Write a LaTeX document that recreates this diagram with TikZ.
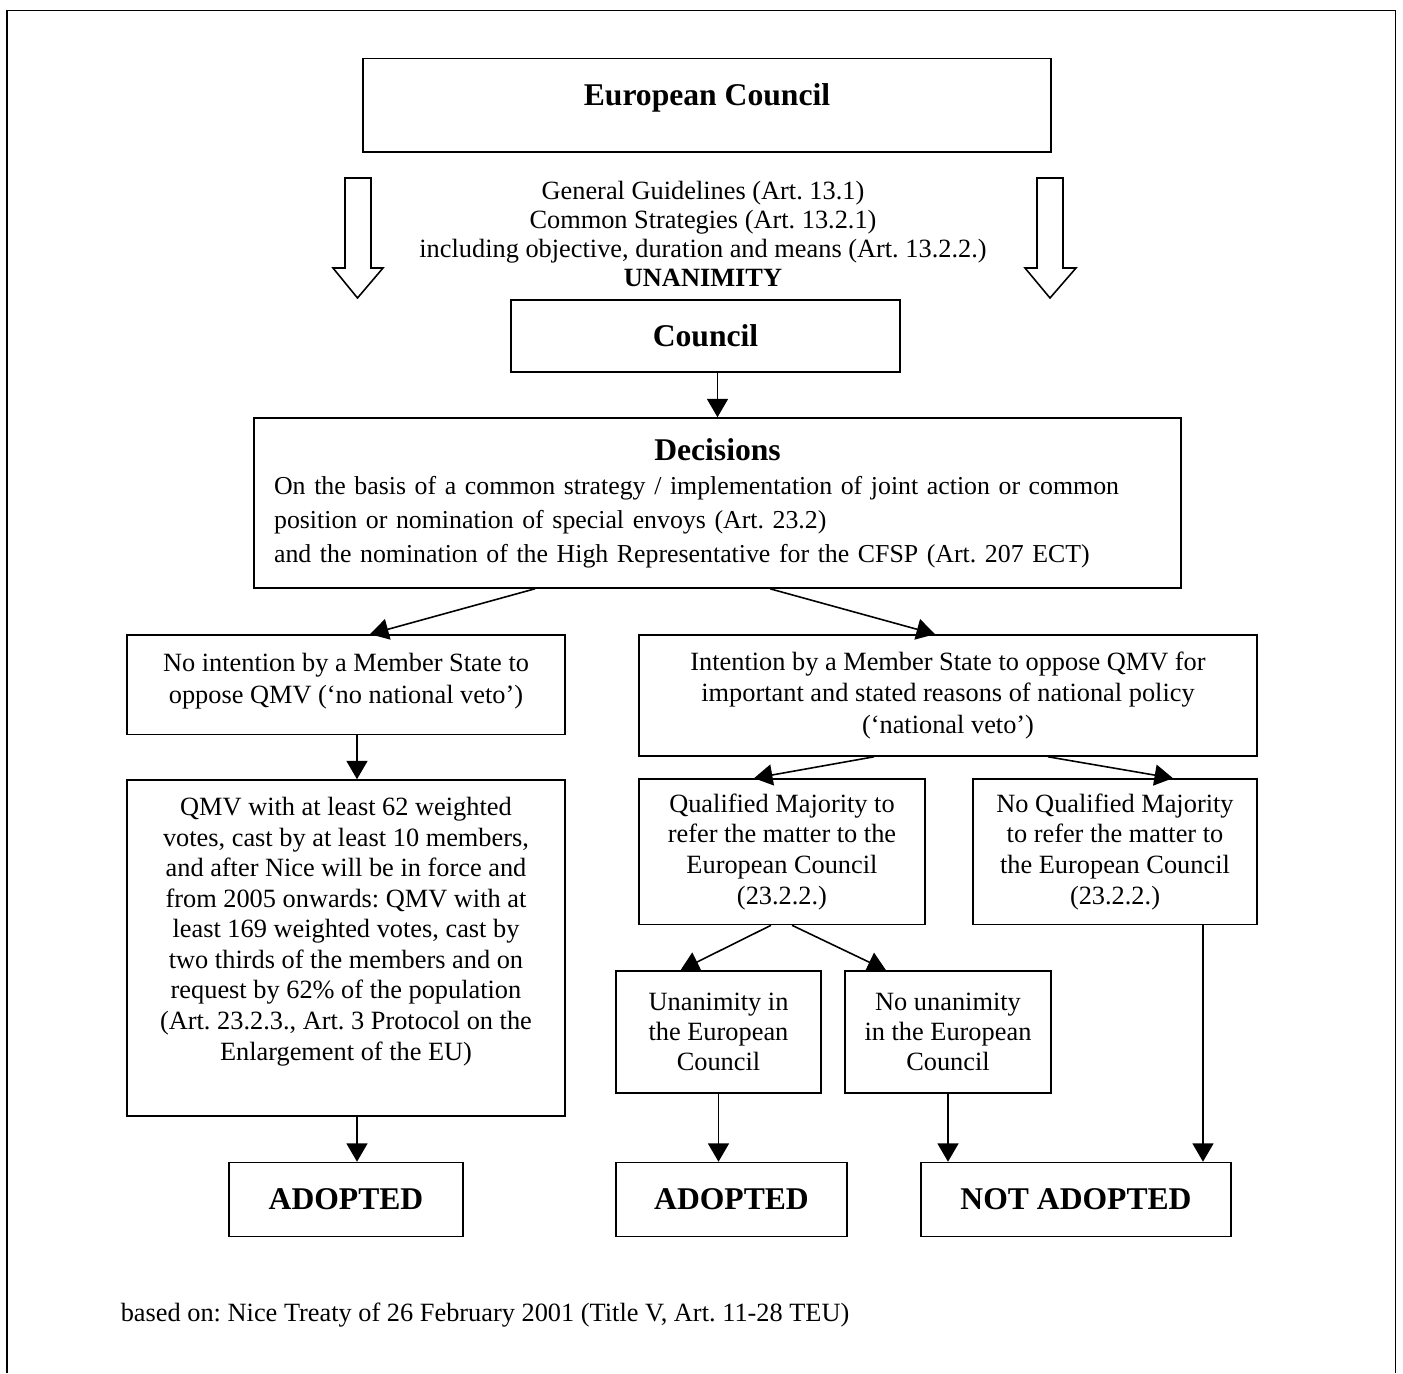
\documentclass[tikz,border=0pt]{standalone}
\usepackage{fontspec}
\setmainfont{Liberation Serif}
\setlength{\parindent}{0pt}
\frenchspacing
\usetikzlibrary{arrows.meta}
\usetikzlibrary{calc}
\usetikzlibrary{positioning}

\begin{document}
\begin{tikzpicture}[x=0.02cm,y=-0.02cm,line width=0.9pt,
    >={Triangle[length=10.5pt,width=12pt]}]
      \tikzstyle{box}=[draw,inner sep=0pt,align=center,font=\fontsize{15}{17.4}\selectfont]
      \tikzstyle{head}=[font=\fontsize{18}{21}\selectfont\bfseries]
      \useasboundingbox (0,0) rectangle (1403,1373);
      \draw[line width=1.1pt] (7,1373) -- (7,10.5) -- (1395.5,10.5) -- (1395.5,1373);

      % top of the chart
      \node[box,head,minimum width=13.76cm,minimum height=1.87cm,text depth=11.7pt]
            (euco) at (707,105.25) {European Council};
      \node[align=center,font=\fontsize{15}{16.5}\selectfont] (guide) at (703,234)
            {General Guidelines (Art. 13.1)\\Common Strategies (Art. 13.2.1)\\
             including objective, duration and means (Art. 13.2.2.)\\\textbf{UNANIMITY}};
      \draw (345,178) -- (371,178) -- (371,268) -- (383,268) -- (357.5,298)
            -- (333,268) -- (345,268) -- cycle;
      \draw (1037,178) -- (1063,178) -- (1063,268) -- (1076,268) -- (1050,298)
            -- (1025,268) -- (1037,268) -- cycle;
      \node[box,head,minimum width=7.78cm,minimum height=1.44cm]
            (council) at (705.5,336) {Council};
      \node[box,minimum width=18.54cm,minimum height=3.4cm,text width=17.74cm,
            align=left,font=\fontsize{14.7}{19.3}\selectfont] (dec) at (717.5,503)
            {{\centering\fontsize{18}{19.3}\selectfont\bfseries Decisions\par}
             On the basis of a common strategy / implementation of joint action or common\\
             position or nomination of special envoys (Art. 23.2)\\
             and the nomination of the High Representative for the CFSP (Art. 207 ECT)};

      % veto or no veto
      \node[box,minimum width=8.76cm,minimum height=1.99cm,text depth=7pt,
            font=\fontsize{15}{18.2}\selectfont]
            (noveto) at (346,684.75) {No intention by a Member State to\\oppose QMV (‘no national veto’)};
      \node[box,minimum width=12.36cm,minimum height=2.42cm,font=\fontsize{15}{17.9}\selectfont]
            (veto) at (948,695.5) {Intention by a Member State to oppose QMV for\\
             important and stated reasons of national policy\\(‘national veto’)};
      \node[box,minimum width=8.76cm,minimum height=6.72cm,text depth=22pt]
            (qmv) at (346,948) {QMV with at least 62 weighted\\votes, cast by at least 10 members,\\
             and after Nice will be in force and\\from 2005 onwards: QMV with at\\
             least 169 weighted votes, cast by\\two thirds of the members and on\\
             request by 62\% of the population\\(Art. 23.2.3., Art. 3 Protocol on the\\
             Enlargement of the EU)};
      \node[box,minimum width=5.72cm,minimum height=2.91cm]
            (qm) at (782,851.75) {Qualified Majority to\\refer the matter to the\\European Council\\(23.2.2.)};
      \node[box,minimum width=5.68cm,minimum height=2.91cm]
            (nqm) at (1115,851.75) {No Qualified Majority\\to refer the matter to\\the European Council\\(23.2.2.)};
      \node[box,minimum width=4.1cm,minimum height=2.44cm,font=\fontsize{15}{17.1}\selectfont]
            (unan) at (718.5,1032) {Unanimity in\\the European\\Council};
      \node[box,minimum width=4.12cm,minimum height=2.44cm,font=\fontsize{15}{17.1}\selectfont]
            (nounan) at (948,1032) {No unanimity\\in the European\\Council};

      % results
      \node[box,head,minimum width=4.68cm,minimum height=1.48cm] (adopt1)   at (346,1199.5)  {ADOPTED};
      \node[box,head,minimum width=4.62cm,minimum height=1.48cm] (adopt2)   at (731.5,1199.5) {ADOPTED};
      \node[box,head,minimum width=6.21cm,minimum height=1.48cm] (notadopt) at (1076,1199.5) {NOT ADOPTED};
      \node[anchor=west,inner sep=0pt,font=\fontsize{15}{17}\selectfont] (source) at (120,1315)
            {based on: Nice Treaty of 26 February 2001 (Title V, Art. 11-28 TEU)};

      \coordinate (qmvout) at ([xshift=0.22cm]qmv.south);
      \coordinate (nqmout) at ([xshift=1.76cm]nqm.south);

      \path[->] (council.south -| dec.north) edge (dec.north)
                ([xshift=-3.65cm]dec.south)  edge ([xshift=0.48cm]noveto.north)
                ([xshift=1.05cm]dec.south)   edge ([xshift=-0.26cm]veto.north)
                ([xshift=0.22cm]noveto.south) edge ([xshift=0.22cm]qmv.north)
                ([xshift=-1.48cm]veto.south) edge ([xshift=-0.56cm]qm.north)
                ([xshift=2cm]veto.south)     edge ([xshift=1.16cm]nqm.north)
                ([xshift=-0.22cm]qm.south)   edge ([xshift=-0.76cm]unan.north)
                ([xshift=0.2cm]qm.south)     edge ([xshift=-1.24cm]nounan.north)
                (qmvout)       edge (qmvout |- adopt1.north)
                (unan.south)   edge (unan.south |- adopt2.north)
                (nounan.south) edge (nounan.south |- notadopt.north)
                (nqmout)       edge (nqmout |- notadopt.north);
    \end{tikzpicture}
\end{document}
